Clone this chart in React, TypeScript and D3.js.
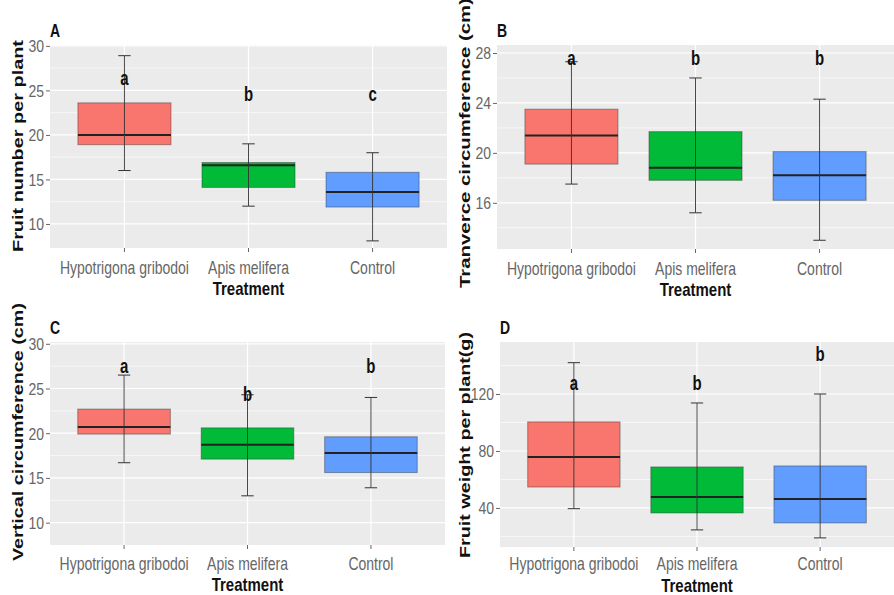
import React, { useEffect, useRef } from "react";
import * as d3 from "d3";

const width = 894;
const height = 595;

const treatments = ["Hypotrigona gribodoi", "Apis melifera", "Control"];
const fills = ["#F8766D", "#00BA38", "#619CFF"];

// five number summaries [min, q1, median, q3, max] per treatment
const fruitNumberBoxes = [
  [16, 18.9, 20.0, 23.6, 28.9],
  [12, 14.1, 16.6, 16.9, 19],
  [8.1, 11.9, 13.6, 15.8, 18],
];
const fruitNumberLetters = ["a", "b", "c"];
const fruitNumberLetterY = [26.4, 24.6, 24.6];
const fruitNumberTicks = [10, 15, 20, 25, 30];
const fruitNumberMinor = [12.5, 17.5, 22.5, 27.5];

const tranverseBoxes = [
  [17.5, 19.1, 21.4, 23.5, 27.3],
  [15.2, 17.8, 18.8, 21.7, 26.0],
  [13.0, 16.2, 18.2, 20.1, 24.3],
];
const tranverseLetters = ["a", "b", "b"];
const tranverseLetterY = [27.6, 27.6, 27.6];
const tranverseTicks = [16, 20, 24, 28];
const tranverseMinor = [14, 18, 22, 26];

const verticalBoxes = [
  [16.7, 19.9, 20.7, 22.7, 26.5],
  [13.0, 17.1, 18.7, 20.6, 24.3],
  [13.9, 15.6, 17.8, 19.6, 24.0],
];
const verticalLetters = ["a", "b", "b"];
const verticalLetterY = [27.5, 24.4, 27.5];
const verticalTicks = [10, 15, 20, 25, 30];
const verticalMinor = [12.5, 17.5, 22.5, 27.5];

const weightBoxes = [
  [39.5, 54.7, 75.8, 100.4, 142],
  [24.6, 36.5, 47.7, 68.8, 113.7],
  [19.0, 29.5, 46.3, 69.5, 120],
];
const weightLetters = ["a", "b", "b"];
const weightLetterY = [127.7, 127.7, 148];
const weightTicks = [40, 80, 120];
const weightMinor = [20, 60, 100, 140];

const font = "'Liberation Sans', Arial, sans-serif";

// the picture's text is stretched vertically
const stretch = (x: number, y: number, sy: number) =>
  `translate(${x},${y}) scale(1,${sy})`;

type PanelProps = {
  tag: string;
  title: string;
  titleLength: number;
  titleX: number;
  titleY: number;
  left: number;
  right: number;
  top: number;
  bottom: number;
  labelGap: number;
  xTitleGap: number;
  domain: [number, number];
  boxes: number[][];
  letters: string[];
  letterY: number[];
  ticks: number[];
  minor: number[];
};

function Panel(p: PanelProps) {
  const axisRef = useRef<SVGGElement>(null);

  const x = d3
    .scalePoint<string>()
    .domain(treatments)
    .range([p.left, p.right])
    .padding(0.6);
  const unit = x.step();
  const y = d3.scaleLinear().domain(p.domain).range([p.bottom, p.top]);

  useEffect(() => {
    const g = d3.select(axisRef.current);
    g.selectAll("*").remove();
    g.attr("transform", `translate(${p.left},0)`)
      .call(d3.axisLeft(y).tickValues(p.ticks).tickSize(4).tickPadding(2));
    g.select(".domain").remove();
    g.selectAll(".tick line").attr("stroke", "#666");
    g.selectAll(".tick text")
      .attr("fill", "#666")
      .attr("dy", null)
      .attr("transform", "scale(1,1.2)")
      .attr("y", 0)
      .style("dominant-baseline", "central")
      .style("font-family", font)
      .style("font-size", "14px");
  });

  const boxW = unit * 0.75;
  const capW = unit * 0.1;

  return (
    <g>
      <rect
        x={p.left}
        y={p.top}
        width={p.right - p.left}
        height={p.bottom - p.top}
        fill="#EBEBEB"
      />
      {p.minor.map((v) => (
        <line key={"mi" + v} x1={p.left} x2={p.right} y1={y(v)} y2={y(v)} stroke="#fff" strokeWidth={0.6} />
      ))}
      {p.ticks.map((v) => (
        <line key={"ma" + v} x1={p.left} x2={p.right} y1={y(v)} y2={y(v)} stroke="#fff" strokeWidth={1.2} />
      ))}
      {treatments.map((t) => (
        <line key={"v" + t} x1={x(t)} x2={x(t)} y1={p.top} y2={p.bottom} stroke="#fff" strokeWidth={1.2} />
      ))}
      {p.boxes.map((b, i) => {
        const cx = x(treatments[i]) as number;
        return (
          <g key={"b" + i}>
            <rect
              x={cx - boxW / 2}
              y={y(b[3])}
              width={boxW}
              height={y(b[1]) - y(b[3])}
              fill={fills[i]}
              stroke="#333"
              strokeOpacity={0.45}
              strokeWidth={1}
            />
            <line x1={cx - boxW / 2} x2={cx + boxW / 2} y1={y(b[2])} y2={y(b[2])} stroke="#222" strokeWidth={2} />
            <line x1={cx} x2={cx} y1={y(b[0])} y2={y(b[4])} stroke="#333" strokeWidth={0.9} />
            <line x1={cx - capW / 2} x2={cx + capW / 2} y1={y(b[0])} y2={y(b[0])} stroke="#333" strokeWidth={1} />
            <line x1={cx - capW / 2} x2={cx + capW / 2} y1={y(b[4])} y2={y(b[4])} stroke="#333" strokeWidth={1} />
            <text
              transform={stretch(cx, y(p.letterY[i]), 1.35)}
              dy="0.36em"
              textAnchor="middle"
              fontFamily={font}
              fontWeight="bold"
              fontSize={15}
              fill="#111"
            >
              {p.letters[i]}
            </text>
          </g>
        );
      })}
      <g ref={axisRef} />
      {treatments.map((t) => (
        <g key={"xt" + t}>
          <line x1={x(t)} x2={x(t)} y1={p.bottom} y2={p.bottom + 4} stroke="#666" />
          <text
            transform={stretch(x(t) as number, p.bottom + p.labelGap, 1.25)}
            textAnchor="middle"
            dominantBaseline="central"
            fontFamily={font}
            fontSize={14}
            fill="#666"
          >
            {t}
          </text>
        </g>
      ))}
      <text
        transform={stretch(x(treatments[1]) as number, p.bottom + p.xTitleGap, 1.25)}
        textAnchor="middle"
        dominantBaseline="central"
        fontFamily={font}
        fontWeight="bold"
        fontSize={15}
        fill="#111"
      >
        Treatment
      </text>
      <text
        transform={`translate(${p.titleX},${p.titleY}) rotate(-90)`}
        textAnchor="middle"
        dy="0.36em"
        fontFamily={font}
        fontWeight="bold"
        fontSize={15}
        textLength={p.titleLength}
        lengthAdjust="spacingAndGlyphs"
        fill="#111"
      >
        {p.title}
      </text>
      <text
        transform={stretch(p.left, p.top - 15, 1.3)}
        dominantBaseline="central"
        fontFamily={font}
        fontWeight="bold"
        fontSize={14}
        fill="#111"
      >
        {p.tag}
      </text>
    </g>
  );
}

export default function App() {
  return (
    <svg
      width={width}
      height={height}
      style={{ position: "absolute", left: 0, top: 0, background: "#fff" }}
    >
      <Panel
        tag="A"
        title="Fruit number per plant"
        titleLength={212}
        titleX={18}
        titleY={146}
        left={50}
        right={447}
        top={45}
        bottom={248}
        labelGap={20}
        xTitleGap={41}
        domain={[7.3, 30.1]}
        boxes={fruitNumberBoxes}
        letters={fruitNumberLetters}
        letterY={fruitNumberLetterY}
        ticks={fruitNumberTicks}
        minor={fruitNumberMinor}
      />
      <Panel
        tag="B"
        title="Tranverce circumference (cm)"
        titleLength={290}
        titleX={465}
        titleY={143}
        left={497}
        right={894}
        top={45}
        bottom={249}
        labelGap={20}
        xTitleGap={41}
        domain={[12.3, 28.64]}
        boxes={tranverseBoxes}
        letters={tranverseLetters}
        letterY={tranverseLetterY}
        ticks={tranverseTicks}
        minor={tranverseMinor}
      />
      <Panel
        tag="C"
        title="Vertical circumference (cm)"
        titleLength={258}
        titleX={18}
        titleY={432}
        left={50}
        right={445}
        top={342}
        bottom={545}
        labelGap={19}
        xTitleGap={40}
        domain={[7.5, 30.2]}
        boxes={verticalBoxes}
        letters={verticalLetters}
        letterY={verticalLetterY}
        ticks={verticalTicks}
        minor={verticalMinor}
      />
      <Panel
        tag="D"
        title="Fruit weight per plant(g)"
        titleLength={226}
        titleX={465}
        titleY={445}
        left={500}
        right={894}
        top={342}
        bottom={547}
        labelGap={17}
        xTitleGap={39}
        domain={[12.6, 156.5]}
        boxes={weightBoxes}
        letters={weightLetters}
        letterY={weightLetterY}
        ticks={weightTicks}
        minor={weightMinor}
      />
    </svg>
  );
}
